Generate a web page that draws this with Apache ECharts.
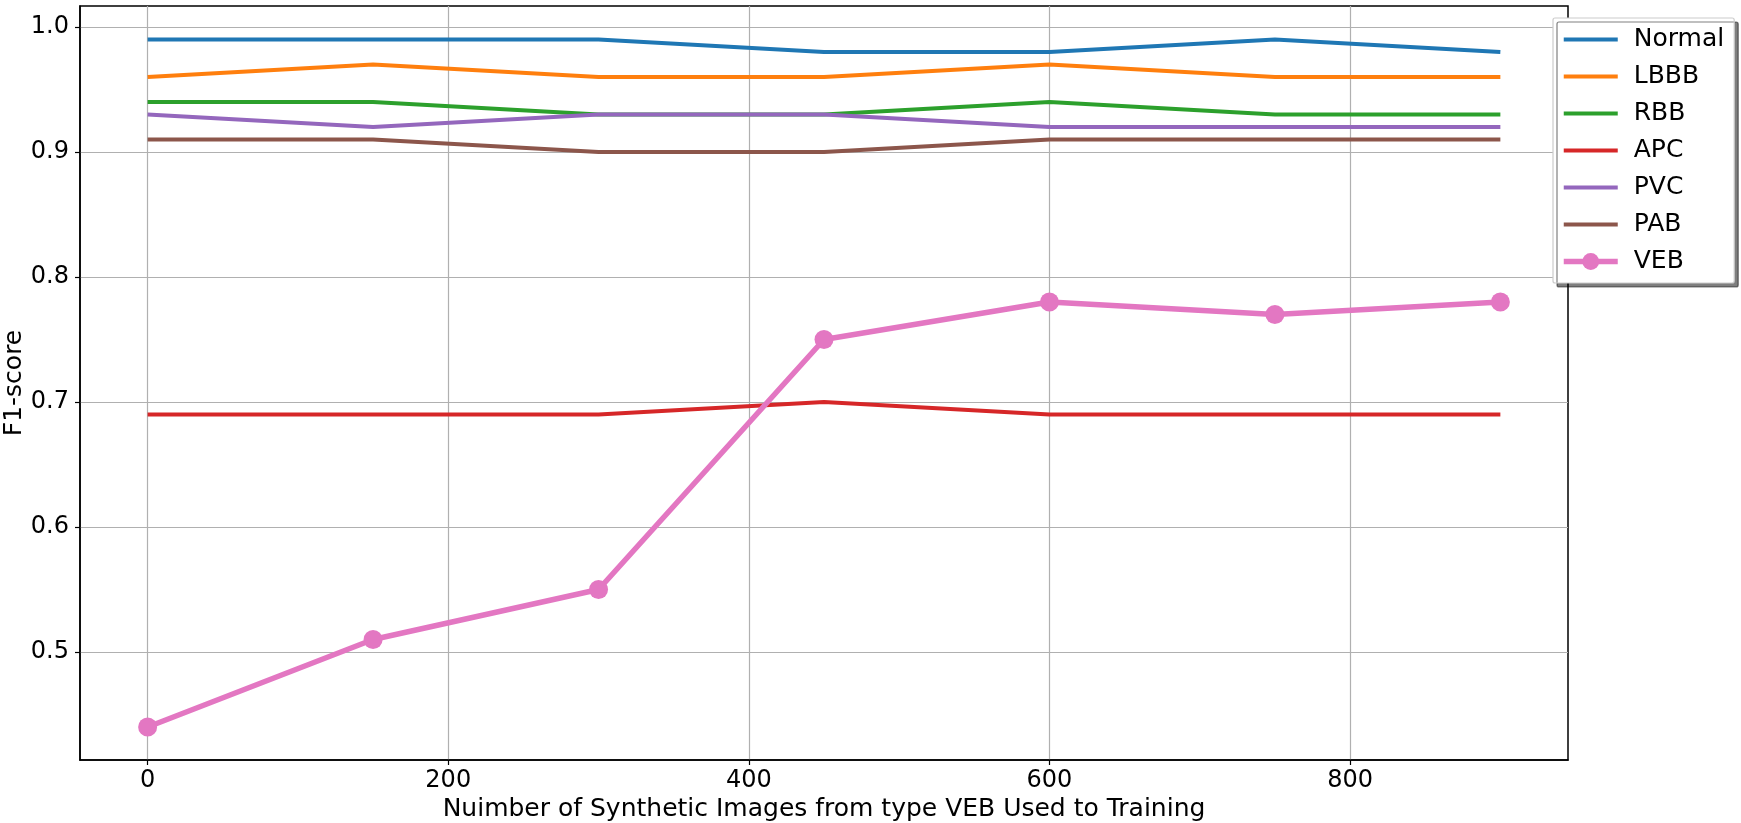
<!DOCTYPE html>
<html>
<head>
<meta charset="utf-8">
<script src="https://cdn.jsdelivr.net/npm/echarts@6/dist/echarts.min.js"></script>
<style>html,body{margin:0;padding:0;background:#fff}#c{width:1741px;height:823px}</style>
</head>
<body>
<div id="c"></div>
<script>
const xValues = [0, 150, 300, 450, 600, 750, 900];
const normal = [0.99, 0.99, 0.99, 0.98, 0.98, 0.99, 0.98];
const lbbb   = [0.96, 0.97, 0.96, 0.96, 0.97, 0.96, 0.96];
const rbb    = [0.94, 0.94, 0.93, 0.93, 0.94, 0.93, 0.93];
const apc    = [0.69, 0.69, 0.69, 0.70, 0.69, 0.69, 0.69];
const pvc    = [0.93, 0.92, 0.93, 0.93, 0.92, 0.92, 0.92];
const pab    = [0.91, 0.91, 0.90, 0.90, 0.91, 0.91, 0.91];
const veb    = [0.44, 0.51, 0.55, 0.75, 0.78, 0.77, 0.78];
const xTicks = [0, 200, 400, 600, 800];
const yTicks = [0.5, 0.6, 0.7, 0.8, 0.9, 1.0];
const xLabel = 'Nuimber of Synthetic Images from type VEB Used to Training';
const yLabel = 'F1-score';

const names = ['Normal', 'LBBB', 'RBB', 'APC', 'PVC', 'PAB', 'VEB'];
const values = [normal, lbbb, rbb, apc, pvc, pab, veb];
const colors = ['#1f77b4', '#ff7f0e', '#2ca02c', '#d62728', '#9467bd', '#8c564b', '#e377c2'];
const FONT = 'DejaVu Sans';

const series = names.map((n, i) => {
  const isVeb = n === 'VEB';
  return {
    name: n,
    type: 'line',
    data: xValues.map((x, j) => [x, values[i][j]]),
    symbol: isVeb ? 'circle' : 'none',
    symbolSize: isVeb ? 19 : 0,
    showSymbol: isVeb,
    lineStyle: { color: colors[i], width: isVeb ? 5.5 : 4 },
    itemStyle: { color: colors[i] },
    emphasis: { disabled: true },
    animation: false,
    z: 2 + i
  };
});

const chart = echarts.init(document.getElementById('c'), null, { renderer: 'canvas' });
chart.setOption({
  backgroundColor: '#fff',
  animation: false,
  textStyle: { fontFamily: FONT },
  grid: { left: 80, right: 173, top: 6, bottom: 63, outerBoundsMode: 'none', containLabel: false, show: true, borderColor: '#000', borderWidth: 1.5, backgroundColor: 'transparent' },
  xAxis: {
    type: 'value',
    min: -45, max: 945,
    name: xLabel,
    nameLocation: 'middle',
    nameGap: 37,
    nameMoveOverlap: false,
    nameTextStyle: { fontSize: 25, color: '#000', fontFamily: FONT },
    axisLine: { show: true, onZero: false, lineStyle: { color: '#000', width: 1.5 } },
    axisTick: { show: true, length: 5, lineStyle: { color: '#000', width: 1.2 }, customValues: xTicks },
    axisLabel: { fontSize: 24, color: '#000', margin: 9, fontFamily: FONT, customValues: xTicks, formatter: v => String(v) },
    splitLine: { show: true, lineStyle: { color: '#b0b0b0', width: 1.2 } }
  },
  yAxis: {
    type: 'value',
    min: 0.4136, max: 1.0168,
    name: yLabel,
    nameLocation: 'middle',
    nameGap: 53,
    nameRotate: 90,
    nameMoveOverlap: false,
    nameTextStyle: { fontSize: 25, color: '#000', fontFamily: FONT },
    axisLine: { show: true, onZero: false, lineStyle: { color: '#000', width: 1.5 } },
    axisTick: { show: true, length: 5, lineStyle: { color: '#000', width: 1.2 }, customValues: yTicks },
    axisLabel: { fontSize: 24, color: '#000', margin: 11, fontFamily: FONT, customValues: yTicks, formatter: v => v.toFixed(1) },
    splitLine: { show: true, lineStyle: { color: '#b0b0b0', width: 1.2 } }
  },
  legend: {
    orient: 'vertical',
    left: 1553,
    top: 18,
    data: names.map(n => n === 'VEB'
      ? { name: n, lineStyle: { width: 5.5 } }
      : { name: n, lineStyle: { width: 4 }, itemStyle: { color: 'rgba(0,0,0,0)', borderWidth: 0, opacity: 0 } }),
    backgroundColor: '#fff',
    borderColor: '#cccccc',
    borderWidth: 1.2,
    borderRadius: 2,
    shadowColor: 'rgba(0,0,0,0.5)',
    shadowOffsetX: 4,
    shadowOffsetY: 4,
    shadowBlur: 0,
    padding: [9, 10, 9, 8],
    itemWidth: 54,
    itemHeight: 21,
    itemGap: 12,
    selectedMode: false,
    textStyle: { fontSize: 25, color: '#000', fontFamily: FONT, lineHeight: 25, padding: [0, 0, 0, 11] }
  },
  series: series
});
</script>
</body>
</html>
